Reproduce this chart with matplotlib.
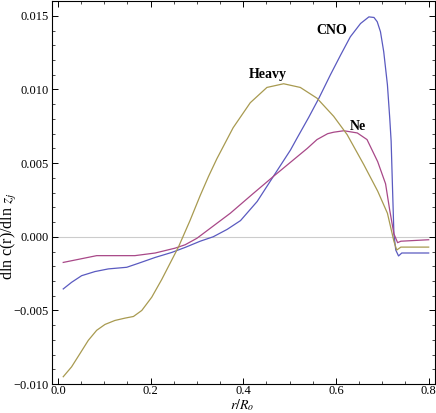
import matplotlib
matplotlib.use("Agg")
from matplotlib import pyplot as plt
from matplotlib.ticker import MultipleLocator

# values
cno_x = [0.0115, 0.0295, 0.0512, 0.08, 0.1088, 0.1485, 0.1737, 0.21, 0.2458, 0.2746,
         0.307, 0.335, 0.365, 0.394, 0.43, 0.469, 0.502, 0.516, 0.541, 0.563, 0.588,
         0.61, 0.631, 0.653, 0.671, 0.682, 0.689, 0.696, 0.703, 0.711, 0.716, 0.719,
         0.722, 0.725, 0.729, 0.735, 0.742, 0.8]
cno_y = [-0.00354, -0.00309, -0.00264, -0.00236, -0.00218, -0.00207, -0.0018, -0.0014,
         -0.00106, -0.00072, -0.0003, 0.0000, 0.0005, 0.0011, 0.0024, 0.0043, 0.0059,
         0.0067, 0.0081, 0.0094, 0.0110, 0.01234, 0.01358, 0.01448, 0.01493, 0.01489,
         0.0146, 0.01392, 0.01257, 0.01032, 0.00806, 0.0065, 0.0033, 0.0002, -0.0009,
         -0.0013, -0.0011, -0.0011]

ne_x = [0.0115, 0.0476, 0.0836, 0.12, 0.166, 0.21, 0.253, 0.2746, 0.3, 0.372, 0.42,
        0.465, 0.538, 0.559, 0.582, 0.595, 0.617, 0.646, 0.667, 0.69, 0.707, 0.716,
        0.725, 0.733, 0.74, 0.8]
ne_y = [-0.00174, -0.00151, -0.00128, -0.00128, -0.00128, -0.0011, -0.00077, -0.00054,
        -0.0001, 0.0016, 0.0029, 0.0041, 0.0060, 0.0066, 0.0070, 0.0071, 0.0072, 0.00705,
        0.0066, 0.0051, 0.0036, 0.0018, 0.0002, -0.0004, -0.0003, -0.0002]

heavy_x = [0.0115, 0.0295, 0.0476, 0.0656, 0.0836, 0.1016, 0.123, 0.145, 0.163, 0.181,
           0.2025, 0.224, 0.242, 0.26, 0.285, 0.307, 0.325, 0.343, 0.378, 0.415, 0.451,
           0.487, 0.523, 0.559, 0.595, 0.624, 0.66, 0.69, 0.711, 0.725, 0.731, 0.74, 0.8]
heavy_y = [-0.0095, -0.00883, -0.00793, -0.00703, -0.00635, -0.00595, -0.00568, -0.00552,
           -0.00541, -0.0050, -0.0041, -0.0029, -0.0018, -0.0007, 0.0011, 0.0028, 0.0041,
           0.0053, 0.0074, 0.0091, 0.01014, 0.01039, 0.01014, 0.00941, 0.00818, 0.00694,
           0.0049, 0.0031, 0.0016, -0.0003, -0.0009, -0.0007, -0.0007]

plt.rcParams['font.family'] = ['Liberation Serif', 'DejaVu Serif']
plt.rcParams['mathtext.fontset'] = 'stix'

fig = plt.figure(figsize=(4.36, 4.13), dpi=100)
ax = fig.add_axes([0.119, 0.070, 0.878, 0.928])

ax.axhline(0, color='#cccccc', lw=0.8, zorder=1)
ax.plot(cno_x, cno_y, color='#5a5ac0', lw=0.9)
ax.plot(ne_x, ne_y, color='#a84888', lw=0.9)
ax.plot(heavy_x, heavy_y, color='#a89a50', lw=0.9)

ax.text(0.59, 0.0140, 'CNO', fontweight='bold', fontsize=10, ha='center', va='center')
ax.text(0.452, 0.0110, 'Heavy', fontweight='bold', fontsize=10, ha='center', va='center')
ax.text(0.648, 0.0075, 'Ne', fontweight='bold', fontsize=10, ha='center', va='center')

ax.set_xlim(-0.013, 0.813)
ax.set_ylim(-0.010, 0.01602)
ax.xaxis.set_major_locator(MultipleLocator(0.2))
ax.xaxis.set_minor_locator(MultipleLocator(0.05))
ax.yaxis.set_major_locator(MultipleLocator(0.005))
ax.yaxis.set_minor_locator(MultipleLocator(0.001))
ax.xaxis.set_major_formatter(lambda v, p: f'{v:.1f}')
ax.yaxis.set_major_formatter(lambda v, p: f'{v:.3f}'.replace('-', '\u2212'))
ax.tick_params(which='both', direction='in', top=True, right=True, labelsize=9, pad=2)
ax.tick_params(axis='x', pad=1)
ax.tick_params(which='major', length=4, width=0.7)
ax.tick_params(which='minor', length=2, width=0.5)
for s in ax.spines.values():
    s.set_linewidth(0.8)

ax.set_xlabel(r'$r/R_o$', fontsize=10)
ax.set_ylabel(r'dln c(r)/dln $z_j$', fontsize=11.5)
ax.xaxis.set_label_coords(0.496, -0.034)
ax.yaxis.set_label_coords(-0.086, 0.385)

fig.savefig('out.png', dpi=100)
